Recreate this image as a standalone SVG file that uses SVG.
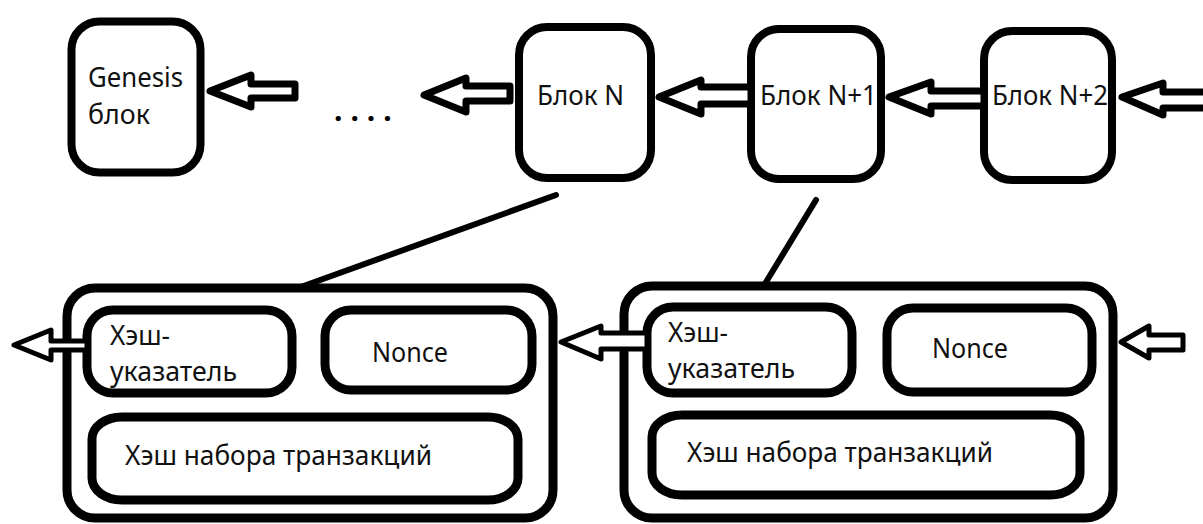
<svg xmlns="http://www.w3.org/2000/svg" width="1203" height="524" viewBox="0 0 1203 524">
  <style>
    .blk { fill: #fff; stroke: #000; stroke-width: 8; }
    .outer { fill: #fff; stroke: #000; stroke-width: 9; }
    .inner { fill: #fff; stroke: #000; stroke-width: 9; }
    .arr { fill: #fff; stroke: #000; stroke-width: 7; stroke-linejoin: round; }
    .arr-s { fill: #fff; stroke: #000; stroke-width: 5; stroke-linejoin: round; }
    .link { stroke: #000; stroke-width: 6; stroke-linecap: round; fill: none; }
    .lbl { font-family: "Noto Sans", "Open Sans", sans-serif; font-size: 27px; fill: #111; }
    .dots { font-family: "Noto Sans", sans-serif; font-size: 30px; font-weight: bold; fill: #000; letter-spacing: 8px; }
  </style>

  <rect width="1203" height="524" fill="#fff"/>

  <g id="genesis">
    <rect class="blk" x="71.5" y="21.5" width="129" height="151" rx="28"/>
    <text class="lbl" x="88" y="87" textLength="95" lengthAdjust="spacingAndGlyphs">Genesis</text>
    <text class="lbl" x="88" y="124" textLength="62" lengthAdjust="spacingAndGlyphs">блок</text>
  </g>

  <g id="ellipsis">
    <text class="dots" x="334" y="121">....</text>
  </g>

  <g id="block-n">
    <rect class="blk" x="519" y="27" width="132" height="151" rx="28"/>
    <text class="lbl" x="537" y="105" textLength="87" lengthAdjust="spacingAndGlyphs">Блок N</text>
  </g>

  <g id="block-n1">
    <rect class="blk" x="751" y="29" width="130" height="150" rx="28"/>
    <text class="lbl" x="760" y="105" textLength="117" lengthAdjust="spacingAndGlyphs">Блок N+1</text>
  </g>

  <g id="block-n2">
    <rect class="blk" x="984" y="31" width="128" height="149" rx="28"/>
    <text class="lbl" x="992" y="105" textLength="116" lengthAdjust="spacingAndGlyphs">Блок N+2</text>
  </g>

  <g id="detail-n">
    <rect class="outer" x="67" y="288" width="486" height="230" rx="28"/>
    <rect class="inner" x="87" y="310" width="205" height="83" rx="26"/>
    <text class="lbl" x="110" y="345" textLength="60" lengthAdjust="spacingAndGlyphs">Хэш-</text>
    <text class="lbl" x="110" y="381" textLength="127" lengthAdjust="spacingAndGlyphs">указатель</text>
    <rect class="inner" x="325" y="310" width="207" height="80" rx="26"/>
    <text class="lbl" x="372" y="362" textLength="76" lengthAdjust="spacingAndGlyphs">Nonce</text>
    <rect class="inner" x="92" y="417" width="426" height="83" rx="30" ry="22"/>
    <text class="lbl" x="125" y="465" textLength="307" lengthAdjust="spacingAndGlyphs">Хэш набора транзакций</text>
  </g>

  <g id="detail-n1">
    <rect class="outer" x="624" y="286" width="489" height="232" rx="28"/>
    <rect class="inner" x="647" y="307" width="205" height="86" rx="26"/>
    <text class="lbl" x="668" y="342" textLength="60" lengthAdjust="spacingAndGlyphs">Хэш-</text>
    <text class="lbl" x="668" y="378" textLength="127" lengthAdjust="spacingAndGlyphs">указатель</text>
    <rect class="inner" x="887" y="308" width="205" height="84" rx="26"/>
    <text class="lbl" x="932" y="358" textLength="76" lengthAdjust="spacingAndGlyphs">Nonce</text>
    <rect class="inner" x="652" y="415" width="428" height="80" rx="30" ry="22"/>
    <text class="lbl" x="687" y="462" textLength="306" lengthAdjust="spacingAndGlyphs">Хэш набора транзакций</text>
  </g>

  <!-- hollow block arrows of the chain, and the links to the detail boxes;
       drawn last so the lower shafts pass through the outer frames -->
  <g id="connectors">
    <polygon class="arr" points="210,91 251,75 251,84 295,84 295,98 251,98 251,107"/>
    <polygon class="arr" points="424,95 466,78 466,86 510,86 510,101 466,101 466,112"/>
    <polygon class="arr" points="659,97 701,80 701,87 751,87 751,104 701,104 701,114"/>
    <polygon class="arr" points="889,97 931,82 931,91 984,91 984,106 931,106 931,114"/>
    <polygon class="arr" points="1122,97 1163,83 1163,92 1215,92 1215,108 1163,108 1163,115"/>
    <polygon class="arr-s" points="14,345 51,330 51,341 87,341 87,350 51,350 51,360"/>
    <polygon class="arr-s" points="561,342 601,326 601,333 647,333 647,349 601,349 601,359"/>
    <polygon class="arr-s" points="1121,342 1149,326 1149,335 1183,335 1183,350 1149,350 1149,358"/>
    <line class="link" x1="556" y1="195" x2="298" y2="288"/>
    <line class="link" x1="816" y1="200" x2="763" y2="287"/>
  </g>
</svg>
